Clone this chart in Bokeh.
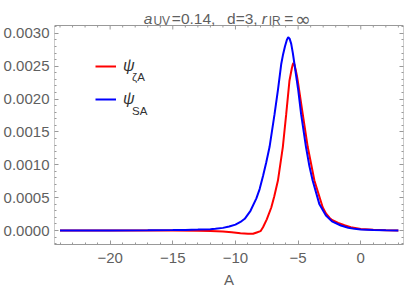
from bokeh.plotting import figure
from bokeh.models import (LinearAxis, Label, Range1d, FixedTicker,
                          NumeralTickFormatter, CustomJSTickFormatter, Legend, LegendItem,
                          BoxAnnotation)
from bokeh.embed import file_html
from bokeh.resources import INLINE

# ---- data ----
A_blue = [-24, -20, -17, -15, -14, -13, -12, -11.6, -11, -10.5, -10, -9.6, -9.26, -8.8,
          -8.33, -8.07, -7.8, -7.54, -7.28, -6.88, -6.6, -6.35, -6.2, -6.05, -5.9, -5.79,
          -5.68, -5.55, -5.42, -5.29, -5.0, -4.76, -4.37, -4.1, -3.84, -3.31, -2.78, -2.3,
          -1.59, -1.0, -0.5, 0.0, 1.0, 2.0, 3.0]
psi_SA = [0.0, 0.0, 0.000002, 0.000006, 0.000009, 0.000014, 0.000020, 0.000026, 0.00004,
          0.000062, 0.00009, 0.00013, 0.000178, 0.0003, 0.00049, 0.00063, 0.00083, 0.00104,
          0.00127, 0.00177, 0.00215, 0.00253, 0.00268, 0.0028, 0.0029, 0.00294, 0.00292,
          0.00284, 0.0027, 0.00253, 0.00215, 0.00177, 0.00127, 0.00098, 0.00076, 0.000405,
          0.000228, 0.00014, 0.000076, 0.000042, 0.000025, 0.000015, 0.000006, 0.000002,
          0.000001]

A_red = [-24, -18, -15, -13, -12, -11, -10.3, -9.6, -9.0, -8.6, -8.3, -8.0, -7.8, -7.5,
         -7.14, -6.9, -6.61, -6.22, -5.95, -5.69, -5.6, -5.5, -5.42, -5.37, -5.3, -5.2,
         -5.1, -5.03, -4.63, -4.23, -3.7, -3.04, -2.78, -2.5, -2.3, -1.8, -1.3, -0.8, 0.0,
         1.0, 2.0, 3.0]
psi_zA = [0.0, 0.0, -0.000001, -0.000004, -0.000008, -0.000015, -0.000025, -0.00004,
          -0.00005, -0.00005, -0.00003, -0.00001, 0.00005, 0.00017, 0.00035, 0.00052,
          0.00076, 0.00127, 0.00177, 0.00228, 0.00237, 0.00247, 0.00253, 0.002548, 0.00253,
          0.00245, 0.00236, 0.00228, 0.00177, 0.00127, 0.00076, 0.000354, 0.00026, 0.000195,
          0.00016, 0.000115, 0.00008, 0.00005, 0.000022, 0.00001, 0.000003, 0.000001]

x_ticks = [-20, -15, -10, -5, 0]
x_minor = [k for k in range(-24, 4) if k % 5]
y_ticks = [0.0, 0.0005, 0.0010, 0.0015, 0.0020, 0.0025, 0.0030]
y_minor = [k * 0.0001 for k in range(-2, 32) if k % 5]

# ---- layout constants (page px; the figure sits at the page origin) ----
W, H = 407, 292
FL, FR, FT, FB = 52, 403, 25, 244   # visible plot box in page px
X0, X1 = -24.44, 3.41
Y0, Y1 = -0.000213, 0.00312          # values at the box bottom / top
YPX = (Y1 - Y0) / (FB - FT)          # data per pixel
YT = Y0 + FB * YPX                   # value at the canvas top (frame extends to it)
TXT = "#5f5f5f"
FRAME = "#999999"
FONT = "Liberation Sans"

def px2x(px):
    return X0 + (px - FL) * (X1 - X0) / (FR - FL)

def px2y(py):
    return Y0 + (FB - py) * YPX

p = figure(width=W, height=H, output_backend="svg", toolbar_location=None, title=None,
           x_range=Range1d(X0, X1), y_range=Range1d(Y0, YT),
           min_border_left=FL, min_border_right=W - FR, min_border_top=0,
           min_border_bottom=H - FB, x_axis_location=None, y_axis_location=None)
p.grid.visible = False
p.outline_line_color = None
p.background_fill_color = "white"

# visible plot box
p.add_layout(BoxAnnotation(left=X0, right=X1, bottom=Y0, top=Y1, fill_color=None,
                           line_color=FRAME, line_width=1, line_alpha=1))

# tick marks along the top edge of the box (mirroring the bottom axis)
p.segment(x0=x_ticks, x1=x_ticks, y0=[Y1] * len(x_ticks), y1=[Y1 - 4 * YPX] * len(x_ticks),
          line_color=FRAME, line_width=1)
p.segment(x0=x_minor, x1=x_minor, y0=[Y1] * len(x_minor), y1=[Y1 - 2 * YPX] * len(x_minor),
          line_color=FRAME, line_width=1)

def mk_axis(ticker, labels, formatter):
    ax = LinearAxis(ticker=ticker, formatter=formatter)
    ax.axis_line_color = None
    ax.major_tick_line_color = FRAME
    ax.minor_tick_line_color = FRAME
    ax.major_tick_in = 4
    ax.major_tick_out = 0
    ax.minor_tick_in = 2
    ax.minor_tick_out = 0
    ax.major_label_text_color = TXT
    ax.major_label_text_font = FONT
    ax.major_label_text_font_size = "15px"
    if not labels:
        ax.major_label_standoff = 0
    return ax

minus_fmt = CustomJSTickFormatter(code="return tick < 0 ? '\u2212' + Math.abs(tick) : String(tick);")
blank_fmt = CustomJSTickFormatter(code="return '';")

xb = mk_axis(FixedTicker(ticks=x_ticks, minor_ticks=x_minor), True, minus_fmt)
xb.axis_line_color = FRAME
xb.major_label_standoff = 8
xb.axis_label = "A"
xb.axis_label_text_font = FONT
xb.axis_label_text_font_style = "normal"
xb.axis_label_text_font_size = "15px"
xb.axis_label_text_color = TXT
xb.axis_label_standoff = 5
p.add_layout(xb, "below")

yl = mk_axis(FixedTicker(ticks=y_ticks, minor_ticks=y_minor), True,
             NumeralTickFormatter(format="0.0000"))
yl.major_label_standoff = 5
p.add_layout(yl, "left")
p.add_layout(mk_axis(FixedTicker(ticks=y_ticks, minor_ticks=y_minor), False, blank_fmt), "right")

r_red = p.line(A_red, psi_zA, line_color="#ff0000", line_width=2)
r_blue = p.line(A_blue, psi_SA, line_color="#0000ff", line_width=2)

legend = Legend(items=[LegendItem(label="\u03c8", renderers=[r_red]),
                       LegendItem(label="\u03c8", renderers=[r_blue])],
                location=(41, 135), glyph_width=21, glyph_height=20, label_height=20,
                spacing=13, padding=0, margin=0, label_standoff=7,
                border_line_color=None, background_fill_alpha=0,
                label_text_font=FONT, label_text_font_style="italic",
                label_text_font_size="16px", label_text_color="#333333")
p.add_layout(legend, "center")

def lab(text, px, py, size, style="normal", color="#333333", font=FONT):
    p.add_layout(Label(x=px2x(px), y=px2y(py), text=text, text_font=font,
                       text_font_size=size, text_font_style=style, text_color=color,
                       text_baseline="alphabetic"))

# legend subscripts
lab("\u03b6A", 130, 76.5, "11.5px")
lab("SA", 130, 110, "11.5px")

# title
lab("a", 141.7, 18.3, "15.5px", "italic", TXT)
lab("UV", 151.5, 20.7, "12px", "normal", TXT)
lab("=0.14,", 170, 18.3, "15.5px", "normal", TXT)
lab("d=3,", 225.5, 18.3, "15.5px", "normal", TXT)
lab("r", 260.5, 18.3, "15.5px", "italic", TXT)
lab("IR", 267.5, 20.7, "12px", "normal", TXT)
lab("=", 283, 18.3, "15.5px", "normal", TXT)
lab("\u221e", 294, 18.3, "19px", "normal", TXT, "DejaVu Sans")

open("out.html", "w").write(file_html(p, INLINE))
